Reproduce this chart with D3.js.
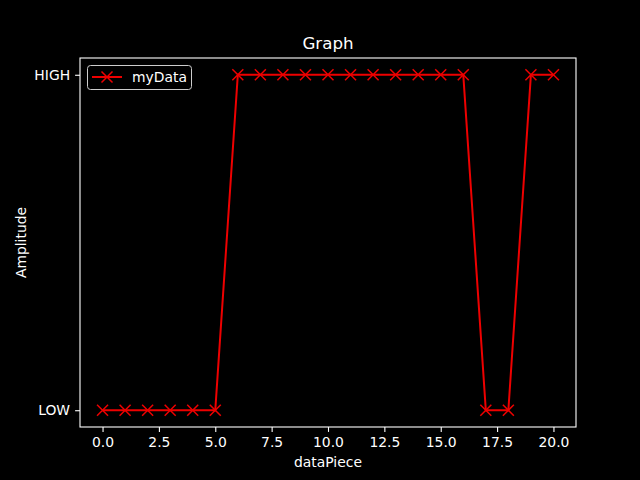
<!DOCTYPE html>
<html><head><meta charset="utf-8">
<script src="https://cdn.jsdelivr.net/npm/d3@7"></script>
<style>body{margin:0;background:#000}svg{display:block}text{font-family:"DejaVu Sans",sans-serif;fill:#fff}</style>
</head><body><svg id="c" width="640" height="480"></svg>
<script>
const xValues = [0,1,2,3,4,5,6,7,8,9,10,11,12,13,14,15,16,17,18,19,20];
const levels = ["LOW","LOW","LOW","LOW","LOW","LOW","HIGH","HIGH","HIGH","HIGH","HIGH","HIGH","HIGH","HIGH","HIGH","HIGH","HIGH","LOW","LOW","HIGH","HIGH"];
const yCategories = ["LOW","HIGH"];
const xTicks = [0,2.5,5,7.5,10,12.5,15,17.5,20];
const seriesName = "myData";

const svg = d3.select("#c");
svg.append("rect").attr("width",640).attr("height",480).attr("fill","#000");
const L=80,R=576,T=58,B=427;
const x = d3.scaleLinear().domain([-1,21]).range([L,R]);
const yIdx = d3.scaleLinear().domain([-0.05,1.05]).range([B,T]);
const y = c => yIdx(yCategories.indexOf(c));
const red = "#ee0000";

const xa = svg.append("g").attr("transform",`translate(0,${B})`)
  .call(d3.axisBottom(x).tickValues(xTicks).tickFormat(d3.format(".1f")).tickSize(4.9).tickPadding(5));
const ya = svg.append("g").attr("transform",`translate(${L},0)`)
  .call(d3.axisLeft(yIdx).tickValues([0,1]).tickFormat(i=>yCategories[i]).tickSize(4.9).tickPadding(5));
[xa,ya].forEach(a=>{a.select(".domain").remove();a.selectAll("line").attr("stroke","#fff").attr("stroke-width",1.1);
  a.selectAll("text").attr("fill","#fff").attr("font-size","13.9px").attr("font-family","DejaVu Sans");});
svg.append("rect").attr("x",L).attr("y",T).attr("width",R-L).attr("height",B-T)
  .attr("fill","none").attr("stroke","#fff").attr("stroke-width",1.1);

const pts = xValues.map((v,i)=>[x(v),y(levels[i])]);
svg.append("path").attr("d",d3.line()(pts)).attr("fill","none").attr("stroke",red).attr("stroke-width",2);
const ms=5.5;
function cross(g,cx,cy){g.append("path").attr("d",`M${cx-ms},${cy-ms}L${cx+ms},${cy+ms}M${cx-ms},${cy+ms}L${cx+ms},${cy-ms}`)
  .attr("stroke",red).attr("stroke-width",1.5).attr("fill","none");}
const mg = svg.append("g");
pts.forEach(p=>cross(mg,p[0],p[1]));

svg.append("text").attr("x",(L+R)/2).attr("y",T-9).attr("text-anchor","middle").attr("font-size","16.7px").text("Graph");
svg.append("text").attr("x",(L+R)/2).attr("y",467).attr("text-anchor","middle").attr("font-size","13.9px").text("dataPiece");
svg.append("text").attr("transform",`translate(26,${(T+B)/2}) rotate(-90)`).attr("text-anchor","middle").attr("font-size","13.9px").text("Amplitude");

const lg = svg.append("g");
lg.append("rect").attr("x",87.5).attr("y",65.5).attr("width",104).attr("height",24).attr("rx",3)
  .attr("fill","#000").attr("stroke","#ccc").attr("stroke-width",1);
lg.append("line").attr("x1",92).attr("x2",122).attr("y1",77).attr("y2",77).attr("stroke",red).attr("stroke-width",2);
cross(lg,107,77);
lg.append("text").attr("x",132).attr("y",82).attr("font-size","13.9px").text(seriesName);
</script></body></html>
